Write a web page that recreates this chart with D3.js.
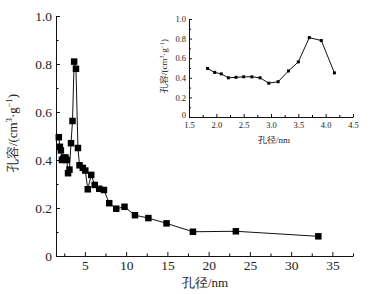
<!DOCTYPE html>
<html><head><meta charset="utf-8">
<script src="https://cdn.jsdelivr.net/npm/d3@7"></script>
<style>
body{margin:0;background:#fff;}
svg{display:block;}
</style></head><body>
<svg id="c" width="370" height="294" font-family="Liberation Serif, Times New Roman, DejaVu Serif, serif"></svg>
<script>
// pore size (nm) and pore volume (cm3/g)
const poreSize = [1.84,1.97,2.09,2.22,2.36,2.50,2.65,2.80,2.96,3.13,3.32,3.50,3.70,3.92,4.16,
  4.35,4.75,5.05,5.35,5.77,6.19,6.74,7.31,7.95,8.8,9.8,11.07,12.7,14.9,18.1,23.3,33.3];
const poreVolume = [0.495,0.455,0.44,0.40,0.405,0.41,0.41,0.40,0.345,0.36,0.47,0.5625,0.81,0.78,0.45,
  0.378,0.367,0.356,0.278,0.338,0.296,0.28,0.275,0.22,0.197,0.205,0.17,0.158,0.136,0.101,0.103,0.082];
const insetCount = 15;
const mainXTicks = [5,10,15,20,25,30,35];
const mainXMinor = [2.5,7.5,12.5,17.5,22.5,27.5,32.5,37.5];
const mainYTicks = [0,0.2,0.4,0.6,0.8,1.0];
const mainYMinor = [0.1,0.3,0.5,0.7,0.9];
const insetXTicks = [1.5,2.0,2.5,3.0,3.5,4.0,4.5];
const insetXMinor = [1.75,2.25,2.75,3.25,3.75,4.25];
const insetYTicks = [0,0.2,0.4,0.6,0.8,1.0];
const insetYMinor = [0.1,0.3,0.5,0.7,0.9];
const xTitle = "孔径/nm";

const FONT = "Liberation Serif, Times New Roman, DejaVu Serif, serif";
const svg = d3.select("#c");
const yfmt = d => d===0 ? "0" : d.toFixed(1);

function panel(opt){
  const x = d3.scaleLinear().domain(opt.xd).range(opt.xr);
  const y = d3.scaleLinear().domain(opt.yd).range(opt.yr);
  const g = svg.append("g");
  const fs = opt.fs;
  g.append("g").attr("transform",`translate(0,${opt.yr[0]})`)
    .call(d3.axisBottom(x).tickValues(opt.xMinor).tickSize(-opt.minor).tickSizeOuter(0).tickFormat(""))
    .call(a=>a.select(".domain").remove());
  g.append("g").attr("transform",`translate(${opt.xr[0]},0)`)
    .call(d3.axisLeft(y).tickValues(opt.yMinor).tickSize(-opt.minor).tickSizeOuter(0).tickFormat(""))
    .call(a=>a.select(".domain").remove());
  const xa = g.append("g").attr("transform",`translate(0,${opt.yr[0]})`)
    .call(d3.axisBottom(x).tickValues(opt.xTicks).tickSize(-opt.major).tickSizeOuter(0).tickPadding(opt.xpad).tickFormat(opt.xfmt));
  const ya = g.append("g").attr("transform",`translate(${opt.xr[0]},0)`)
    .call(d3.axisLeft(y).tickValues(opt.yTicks).tickSize(-opt.major).tickSizeOuter(0).tickPadding(opt.ypad).tickFormat(yfmt));
  [xa,ya].forEach(a=>{
    a.attr("font-family",FONT).attr("font-size",fs);
    a.selectAll("text").attr("fill","#222");
    a.selectAll("line,path").attr("stroke","#111");
  });
  if (opt.zeroDy) ya.selectAll(".tick").filter(d=>d===0).select("text").attr("dy",opt.zeroDy);
  const data = opt.xs.map((d,i)=>[d,opt.ys[i]]);
  g.append("path").datum(data)
    .attr("fill","none").attr("stroke","#111").attr("stroke-width",opt.lw)
    .attr("d",d3.line().x(d=>x(d[0])).y(d=>y(d[1])));
  g.selectAll("rect.m").data(data).join("rect").attr("class","m")
    .attr("x",d=>x(d[0])-opt.ms/2).attr("y",d=>y(d[1])-opt.ms/2)
    .attr("width",opt.ms).attr("height",opt.ms).attr("fill","#000");
  g.append("text").attr("x",opt.xtx).attr("y",opt.xty).attr("text-anchor","middle")
    .attr("fill","#222").attr("font-size",opt.tfs).text(xTitle);
  const yt = g.append("text").attr("transform",`translate(${opt.ytx},${opt.yty}) rotate(-90)`)
    .attr("text-anchor","middle").attr("fill","#222").attr("font-size",opt.tfs);
  yt.append("tspan").text("孔容/(cm");
  yt.append("tspan").attr("dy",-opt.tfs*0.35).attr("font-size",opt.tfs*0.65).text("3");
  yt.append("tspan").attr("dy",opt.tfs*0.35).text("·g");
  yt.append("tspan").attr("dy",-opt.tfs*0.35).attr("font-size",opt.tfs*0.65).text("−1");
  yt.append("tspan").attr("dy",opt.tfs*0.35).text(")");
}

panel({xd:[1.5,37.5], xr:[56,353], yd:[0,1], yr:[256,16],
  xTicks:mainXTicks, xMinor:mainXMinor, yTicks:mainYTicks, yMinor:mainYMinor,
  xfmt:d=>d, major:4, minor:2.5, xpad:4, ypad:4, fs:13.5, lw:1, ms:6.5,
  xs:poreSize, ys:poreVolume, tfs:13, xtx:205, xty:287, ytx:17, yty:133});

panel({xd:[1.5,4.5], xr:[189,353], yd:[0,1], yr:[117,19],
  xTicks:insetXTicks, xMinor:insetXMinor, yTicks:insetYTicks, yMinor:insetYMinor,
  xfmt:d=>d.toFixed(1), major:3, minor:2, xpad:5, ypad:3, fs:8.5, lw:1, ms:3,
  zeroDy:"0.05em",
  xs:poreSize.slice(0,insetCount), ys:poreVolume.slice(0,insetCount),
  tfs:9, xtx:274, xty:143, ytx:167, yty:66});
</script>
</body></html>
